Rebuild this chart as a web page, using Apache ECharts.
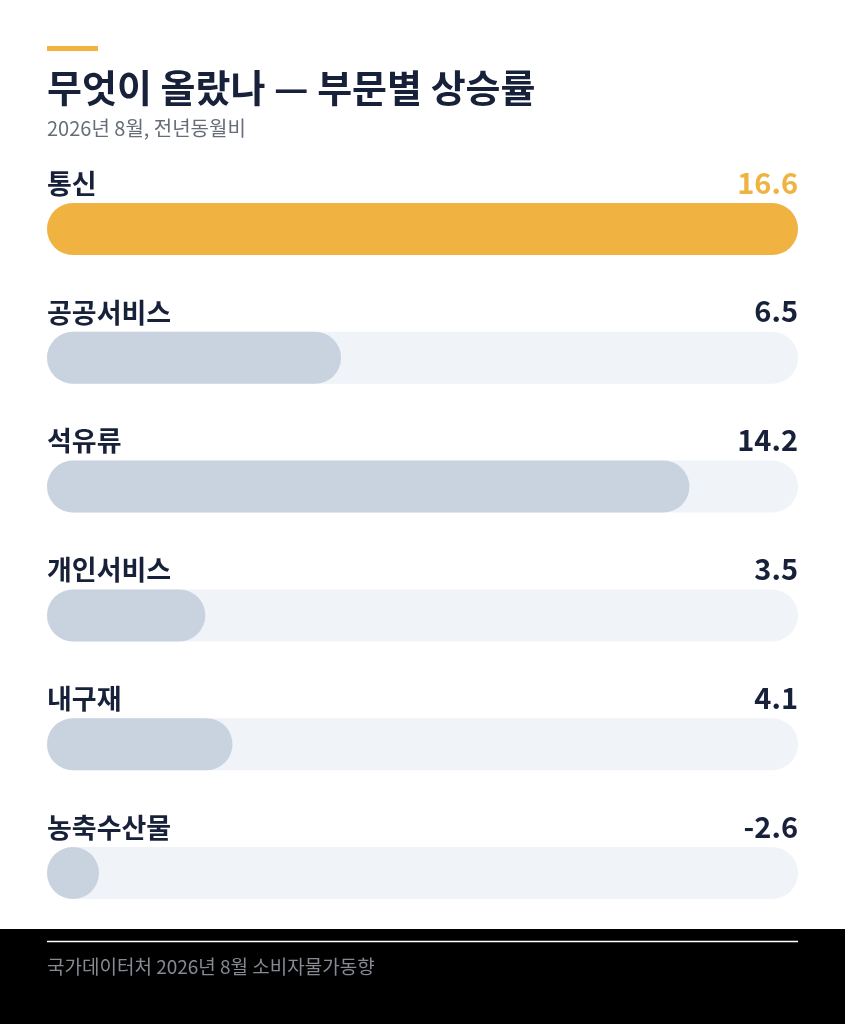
<!DOCTYPE html>
<html><head><meta charset="utf-8">
<style>html,body{margin:0;padding:0;background:#fff}#c{width:845px;height:1024px}</style>
<script src="https://cdn.jsdelivr.net/npm/echarts@6/dist/echarts.min.js"></script>
</head><body><div id="c"></div>
<script>
const categories = ['통신','공공서비스','석유류','개인서비스','내구재','농축수산물'];
const values = [16.6, 6.5, 14.2, 3.5, 4.1, -2.6];
const valueLabels = ['16.6','6.5','14.2','3.5','4.1','-2.6'];
const highlight = [true,false,false,false,false,false];

const FONT = '"Noto Sans CJK KR","Noto Sans",sans-serif';
const NAVY = '#17213a';
const ORANGE = '#f0b240';
const chart = echarts.init(document.getElementById('c'), null, {renderer:'canvas'});
const maxV = Math.max(...values);
chart.setOption({
  backgroundColor:'#ffffff',
  animation:false,
  grid:{left:47,right:47,top:164.6,height:772.8},
  xAxis:{type:'value',min:0,max:maxV,show:false},
  yAxis:[{
    type:'category',data:categories,inverse:true,
    axisLine:{show:false},axisTick:{show:false},splitLine:{show:false},
    axisLabel:{inside:true,margin:0,verticalAlign:'bottom',padding:[0,0,32,0],
      fontSize:27,fontWeight:'bold',color:NAVY,fontFamily:FONT}
  },{
    type:'category',data:valueLabels,inverse:true,position:'right',
    axisLine:{show:false},axisTick:{show:false},splitLine:{show:false},
    axisLabel:{inside:true,margin:0,verticalAlign:'bottom',padding:[0,0,32,0],
      fontSize:29,fontWeight:'bold',fontFamily:FONT,
      formatter:(v,i)=> highlight[i] ? '{h|'+v+'}' : '{n|'+v+'}',
      rich:{h:{color:ORANGE,fontSize:29,fontWeight:'bold',fontFamily:FONT},
            n:{color:NAVY,fontSize:29,fontWeight:'bold',fontFamily:FONT}}}
  }],
  series:[{
    type:'bar',barWidth:52,barMinHeight:52,
    showBackground:true,
    backgroundStyle:{color:'#f0f3f7',borderRadius:26},
    itemStyle:{borderRadius:26},
    data:values.map((v,i)=>({value:Math.max(v,0),itemStyle:{color:highlight[i]?ORANGE:'#c9d3df'}}))
  }],
  graphic:[
    {type:'rect',shape:{x:47,y:46,width:51,height:5},style:{fill:ORANGE}},
    {type:'text',x:47,y:88,style:{text:'무엇이 올랐나 — 부문별 상승률',fontSize:38,fontWeight:'bold',fill:NAVY,fontFamily:FONT,verticalAlign:'middle'}},
    {type:'text',x:47,y:128.5,style:{text:'2026년 8월, 전년동월비',fontSize:20,fill:'#666d78',fontFamily:FONT,verticalAlign:'middle'}},
    {type:'rect',shape:{x:0,y:929,width:845,height:95},style:{fill:'#000000'}},
    {type:'line',shape:{x1:47,y1:941.5,x2:798,y2:941.5},style:{stroke:'#ffffff',lineWidth:1.5}},
    {type:'text',x:47,y:967,style:{text:'국가데이터처 2026년 8월 소비자물가동향',fontSize:19,fill:'#858a93',fontFamily:FONT,verticalAlign:'middle'}}
  ]
});
</script></body></html>
